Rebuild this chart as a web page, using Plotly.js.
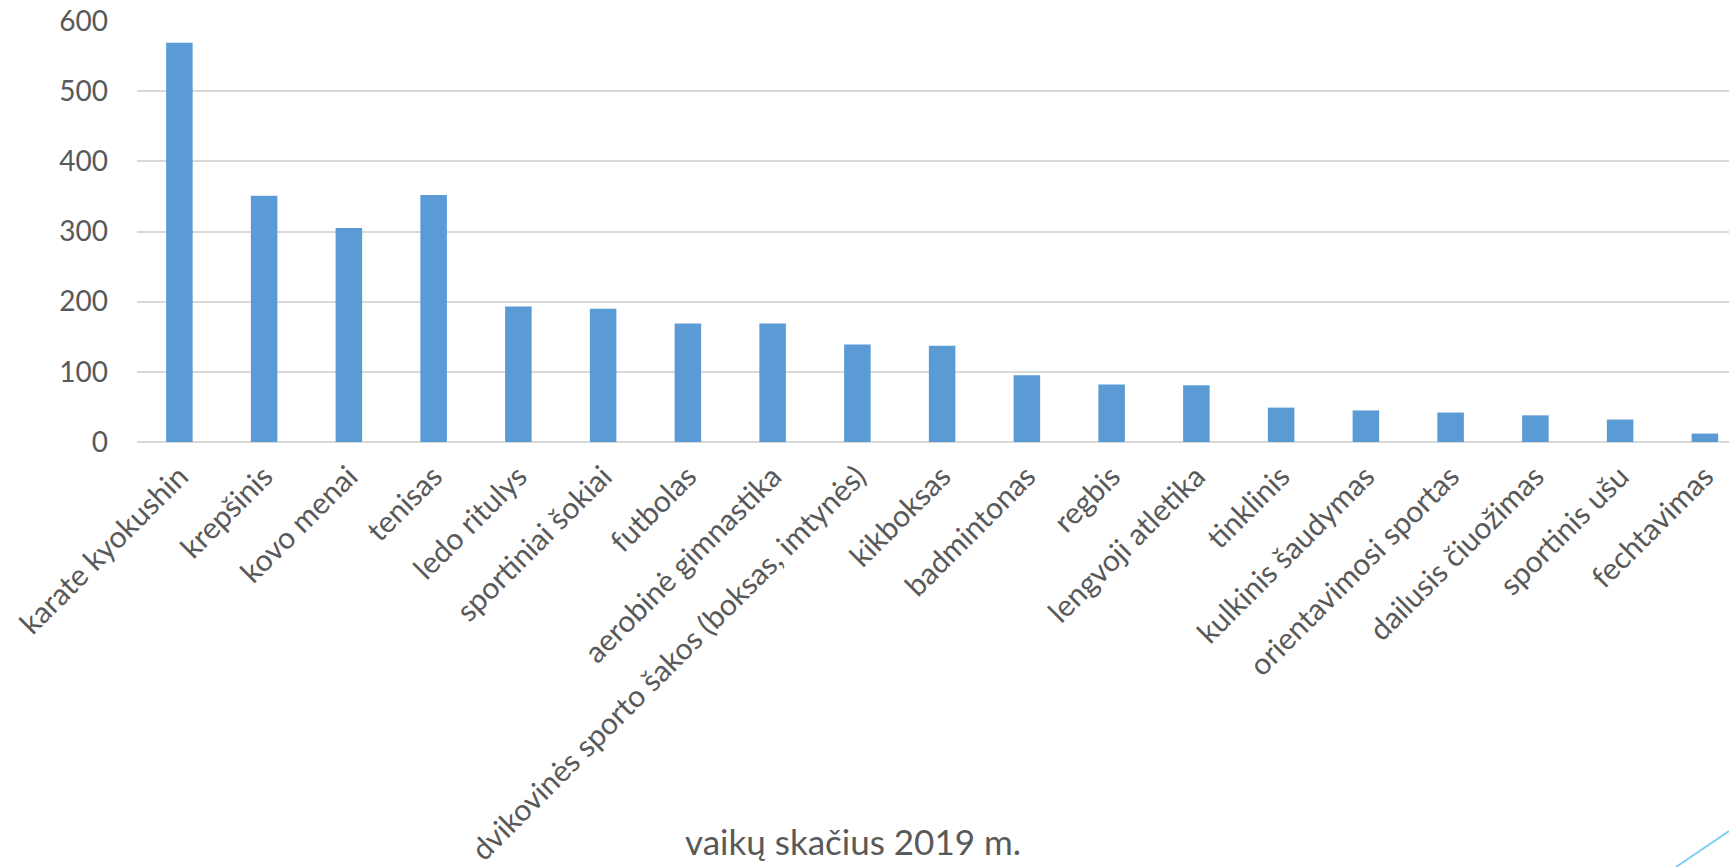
<!DOCTYPE html>
<html>
<head>
<meta charset="utf-8">
<script src="https://cdn.plot.ly/plotly-3.0.1.min.js"></script>
<style>
  html, body { margin: 0; padding: 0; background: #ffffff; }
  #chart { width: 1729px; height: 867px; }
</style>
</head>
<body>
<div id="chart"></div>
<script>
const categories = [
  "karate kyokushin", "krepšinis", "kovo menai", "tenisas", "ledo ritulys",
  "sportiniai šokiai", "futbolas", "aerobinė gimnastika",
  "dvikovinės sporto šakos (boksas, imtynės)", "kikboksas", "badmintonas",
  "regbis", "lengvoji atletika", "tinklinis", "kulkinis šaudymas",
  "orientavimosi sportas", "dailusis čiuožimas", "sportinis ušu", "fechtavimas"
];
const childrenCount2019 = [569, 351, 305, 352, 193, 190, 169, 169, 139, 137, 95, 82, 81, 49, 45, 42, 38, 32, 12];
const seriesName = "vaikų skačius 2019 m.";
const yTickValues = [0, 100, 200, 300, 400, 500, 600];

const W = 1729, H = 867;
const plotLeft = 137, plotRight = 1729, plotTop = 21, plotBottom = 442;
const plotW = plotRight - plotLeft, plotH = plotBottom - plotTop;
const pxX = px => (px - plotLeft) / plotW;
const pxY = py => (plotBottom - py) / plotH;

const textColor = "#595959";
const fontFamily = "Lato, 'Open Sans', 'DejaVu Sans', sans-serif";

const trace = {
  type: "bar",
  x: categories,
  y: childrenCount2019,
  name: seriesName,
  marker: { color: "#5b9bd5", line: { width: 0 } },
  hoverinfo: "x+y"
};

const layout = {
  width: W,
  height: H,
  margin: { l: plotLeft, r: W - plotRight, t: plotTop, b: H - plotBottom, pad: 0 },
  paper_bgcolor: "#ffffff",
  plot_bgcolor: "#ffffff",
  showlegend: false,
  bargap: 0.687,
  font: { family: fontFamily, color: textColor, size: 28 },
  xaxis: {
    type: "category",
    range: [-0.5, -0.5 + plotW / 84.75],
    tickangle: -45,
    tickfont: { family: fontFamily, size: 30, color: textColor },
    showgrid: false,
    showline: false,
    zeroline: false,
    ticks: "",
    ticklabelstandoff: 10,
    automargin: false,
    fixedrange: true
  },
  yaxis: {
    range: [0, 600],
    tickvals: yTickValues,
    ticktext: yTickValues.map(String),
    tickfont: { family: fontFamily, size: 28, color: textColor },
    showgrid: true,
    gridcolor: "#d9d9d9",
    gridwidth: 2,
    zeroline: true,
    zerolinecolor: "#d9d9d9",
    zerolinewidth: 2,
    showline: false,
    ticks: "",
    ticklabelstandoff: 28,
    automargin: false,
    fixedrange: true
  },
  annotations: [{
    text: seriesName,
    xref: "paper", yref: "paper",
    x: pxX(853), y: pxY(841),
    xanchor: "center", yanchor: "middle",
    showarrow: false,
    font: { family: fontFamily, size: 35, color: textColor }
  }],
  shapes: [{
    type: "line",
    xref: "paper", yref: "paper",
    x0: pxX(1676), y0: pxY(867),
    x1: pxX(1729), y1: pxY(831),
    line: { color: "#7fd0ef", width: 2 }
  }]
};

Plotly.newPlot("chart", [trace], layout, { displayModeBar: false, staticPlot: true });
</script>
</body>
</html>
